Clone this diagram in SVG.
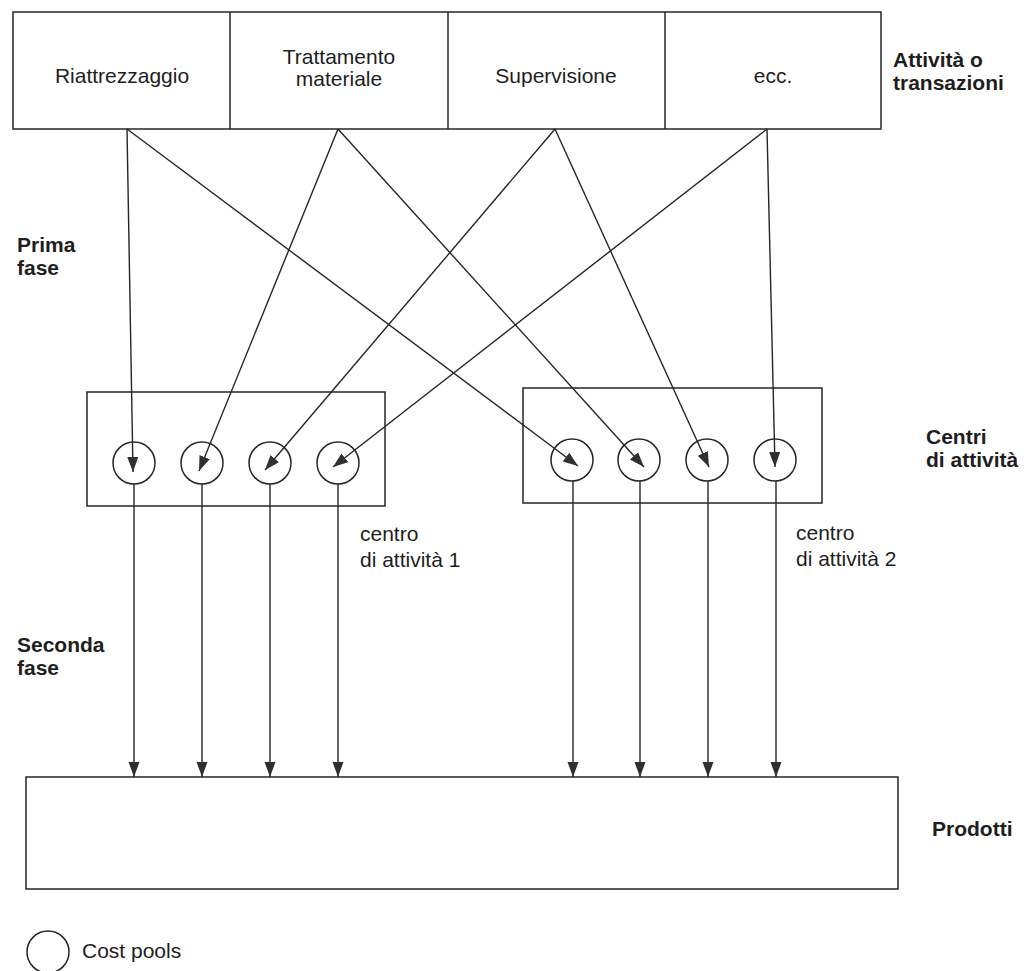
<svg xmlns="http://www.w3.org/2000/svg" width="1026" height="971" viewBox="0 0 1026 971">
<style>
  .box { fill: none; stroke: #262626; stroke-width: 1.5; }
  .pool { fill: #fff; stroke: #262626; stroke-width: 1.5; }
  .ln { stroke: #262626; stroke-width: 1.4; fill: none; marker-end: url(#ah); }
  .t { font-family: "Liberation Sans", Arial, sans-serif; font-size: 21px; fill: #1e1e1e; }
  .c { text-anchor: middle; }
  .b { font-weight: bold; }
</style>
<defs>
  <marker id="ah" markerUnits="userSpaceOnUse" markerWidth="16" markerHeight="12" refX="15" refY="5.5" orient="auto">
    <path d="M0,0 L15,5.5 L0,11 Z" fill="#303030"/>
  </marker>
</defs>
<rect width="1026" height="971" fill="#fff"/>

<g id="activities">
  <rect class="box" x="13" y="12" width="868" height="117"/>
  <line class="box" x1="230" y1="12" x2="230" y2="129"/>
  <line class="box" x1="448" y1="12" x2="448" y2="129"/>
  <line class="box" x1="665" y1="12" x2="665" y2="129"/>
  <text class="t c" x="122" y="83">Riattrezzaggio</text>
  <text class="t c" x="339" y="64">Trattamento</text>
  <text class="t c" x="339" y="86">materiale</text>
  <text class="t c" x="556" y="83">Supervisione</text>
  <text class="t c" x="773" y="83">ecc.</text>
</g>

<g id="center1">
  <rect class="box" x="87" y="392" width="298" height="114"/>
  <circle class="pool" cx="134" cy="463" r="21"/>
  <circle class="pool" cx="202" cy="463" r="21"/>
  <circle class="pool" cx="270" cy="463" r="21"/>
  <circle class="pool" cx="338" cy="463" r="21"/>
</g>

<g id="center2">
  <rect class="box" x="523" y="388" width="299" height="115"/>
  <circle class="pool" cx="572" cy="460" r="21"/>
  <circle class="pool" cx="639" cy="460" r="21"/>
  <circle class="pool" cx="707" cy="460" r="21"/>
  <circle class="pool" cx="775" cy="460" r="21"/>
</g>

<g id="products">
  <rect class="box" x="26" y="777" width="872" height="112"/>
</g>

<g id="connectors">
  <line class="ln" x1="127" y1="129" x2="133" y2="472"/>
  <line class="ln" x1="127" y1="129" x2="578" y2="466"/>
  <line class="ln" x1="338" y1="129" x2="199" y2="471"/>
  <line class="ln" x1="338" y1="129" x2="644" y2="467"/>
  <line class="ln" x1="555" y1="129" x2="265" y2="470"/>
  <line class="ln" x1="555" y1="129" x2="709" y2="467"/>
  <line class="ln" x1="767" y1="129" x2="333" y2="467"/>
  <line class="ln" x1="767" y1="129" x2="775" y2="467"/>

  <line class="ln" x1="134" y1="484" x2="134" y2="777"/>
  <line class="ln" x1="202" y1="484" x2="202" y2="777"/>
  <line class="ln" x1="270" y1="484" x2="270" y2="777"/>
  <line class="ln" x1="338" y1="484" x2="338" y2="777"/>
  <line class="ln" x1="573" y1="481" x2="573" y2="777"/>
  <line class="ln" x1="640" y1="481" x2="640" y2="777"/>
  <line class="ln" x1="708" y1="481" x2="708" y2="777"/>
  <line class="ln" x1="776" y1="481" x2="776" y2="777"/>
</g>

<g id="labels">
  <text class="t b" x="893" y="67">Attività o</text>
  <text class="t b" x="893" y="90">transazioni</text>
  <text class="t b" x="17" y="252">Prima</text>
  <text class="t b" x="17" y="275">fase</text>
  <text class="t b" x="926" y="444">Centri</text>
  <text class="t b" x="926" y="467">di attività</text>
  <text class="t" x="360" y="541">centro</text>
  <text class="t" x="360" y="567">di attività 1</text>
  <text class="t" x="796" y="540">centro</text>
  <text class="t" x="796" y="566">di attività 2</text>
  <text class="t b" x="17" y="652">Seconda</text>
  <text class="t b" x="17" y="675">fase</text>
  <text class="t b" x="932" y="836">Prodotti</text>
</g>

<g id="legend">
  <circle class="pool" cx="48" cy="952" r="21"/>
  <text class="t" x="82" y="958">Cost pools</text>
</g>
</svg>
